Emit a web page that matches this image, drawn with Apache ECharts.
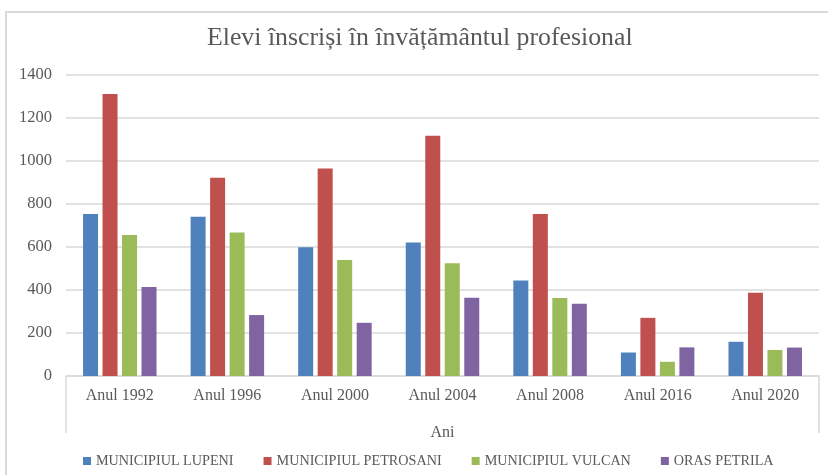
<!DOCTYPE html>
<html>
<head>
<meta charset="utf-8">
<script src="https://cdn.jsdelivr.net/npm/echarts@6/dist/echarts.min.js"></script>
<style>
  html, body { margin: 0; padding: 0; background: #fff; }
  #frame { position: absolute; left: 5px; top: 11px; width: 900px; height: 500px;
           border-top: 2px solid #d9d9d9; border-left: 2px solid #d9d9d9; }
  #chart { position: absolute; left: 0; top: 0; width: 828px; height: 475px; }
</style>
</head>
<body>
<div id="frame"></div>
<div id="chart"></div>
<script>
// date
const ani = ['Anul 1992', 'Anul 1996', 'Anul 2000', 'Anul 2004', 'Anul 2008', 'Anul 2016', 'Anul 2020'];
const lupeni = [752, 740, 598, 620, 443, 109, 159];
const petrosani = [1310, 921, 963, 1116, 752, 270, 386];
const vulcan = [655, 666, 539, 524, 362, 66, 121];
const petrila = [413, 283, 247, 363, 336, 133, 132];

const serif = '"Liberation Serif", "DejaVu Serif", serif';

let chart = echarts.init(document.getElementById('chart'));

// serie cu bare, aceeasi configuratie pentru toate
const bara = (name, data, color) => ({
  name: name,
  type: 'bar',
  data: data,
  barWidth: 15,
  barGap: '30%',
  itemStyle: {
    color: color
  }
});

let options = {
  animation: false,
  title: {
    text: 'Elevi înscriși în învățământul profesional',
    left: 202,
    top: 20,
    textStyle: {
      color: '#595959',
      fontFamily: serif,
      fontWeight: 'normal',
      fontSize: 25.8
    }
  },
  grid: {
    left: 66,
    right: 9,
    top: 74.5,
    bottom: 99
  },
  legend: {
    left: 78,
    top: 449,
    itemWidth: 8,
    itemHeight: 8,
    itemGap: 30,
    icon: 'rect',
    textStyle: {
      color: '#595959',
      fontFamily: serif,
      fontSize: 14.2
    }
  },
  xAxis: {
    type: 'category',
    data: ani,
    name: 'Ani',
    nameLocation: 'middle',
    nameGap: 49,
    nameTextStyle: {
      color: '#595959',
      fontFamily: serif,
      fontSize: 16
    },
    axisLine: {
      lineStyle: { color: '#d9d9d9', width: 1.5 }
    },
    // doar liniile de la capete, ca in Excel
    axisTick: {
      show: true,
      length: 57,
      interval: (i) => i === 0,
      lineStyle: { color: '#d9d9d9', width: 1.5 }
    },
    axisLabel: {
      interval: 0,
      margin: 12,
      color: '#595959',
      fontFamily: serif,
      fontSize: 16
    }
  },
  yAxis: {
    type: 'value',
    min: 0,
    max: 1400,
    interval: 200,
    axisLine: { show: false },
    axisTick: { show: false },
    axisLabel: {
      margin: 14,
      color: '#595959',
      fontFamily: serif,
      fontSize: 16.5,
      formatter: (v) => String(v)
    },
    splitLine: {
      lineStyle: { color: '#d9d9d9', width: 1.5 }
    }
  },
  series: [
    bara('MUNICIPIUL LUPENI', lupeni, '#4f81bd'),
    bara('MUNICIPIUL PETROSANI', petrosani, '#c0504d'),
    bara('MUNICIPIUL VULCAN', vulcan, '#9bbb59'),
    bara('ORAS PETRILA', petrila, '#8064a2')
  ]
};
chart.setOption(options);
</script>
</body>
</html>
